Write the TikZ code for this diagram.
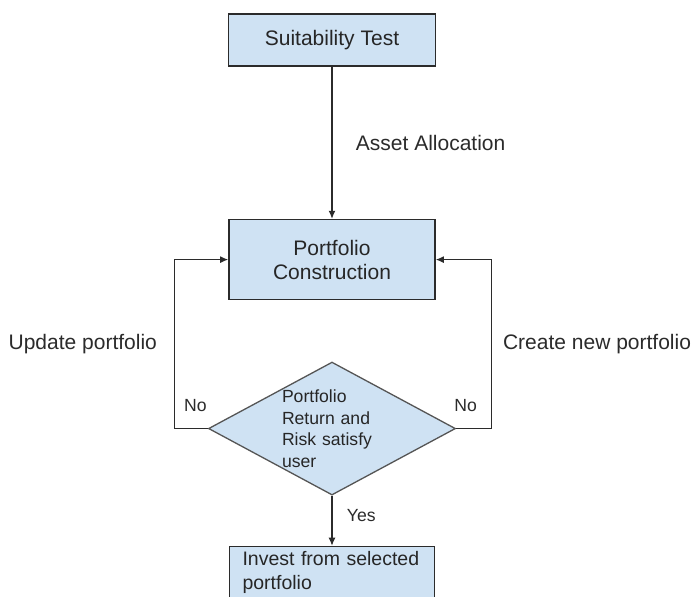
\documentclass[tikz,border=0pt]{standalone}
\usepackage{fontspec}
\setmainfont{Liberation Sans}
\usetikzlibrary{positioning,arrows.meta,shapes.geometric}
\definecolor{boxfill}{HTML}{CFE2F3}
\definecolor{edge}{HTML}{2B2B2B}
\definecolor{ink}{HTML}{262626}
\definecolor{rim}{HTML}{555555}

\begin{document}
\begin{tikzpicture}[x=1pt,y=1pt,font=\fontsize{21}{24}\selectfont,text=ink,
  stepbox/.style={draw=edge,line width=1.6pt,fill=boxfill,align=center},
  flow/.style={-{Latex[length=8pt,width=7pt]},edge,line width=1.2pt},
  small/.style={font=\fontsize{17.6}{21.5}\selectfont}]
\clip (0,0) rectangle (694,-597);
\fill[white] (0,0) rectangle (694,-597);
\node[stepbox,minimum width=207pt,minimum height=52pt] (st) at (332,-40) {Suitability Test};
\node[stepbox,minimum width=206pt,minimum height=80pt,below=152pt of st] (pc) {Portfolio\\Construction};
\node[diamond,draw=rim,line width=1.3pt,fill=boxfill,minimum width=247pt,minimum height=133pt,
  inner sep=0pt,below=61pt of pc] (dc) {};
\node[small,text width=92pt,align=left,xshift=-4pt] (dct) at (dc) {Portfolio\\Return and\\Risk satisfy\\user};
\node[stepbox,font=\fontsize{19.5}{24}\selectfont,text width=179pt,inner xsep=13pt,align=left,
  minimum height=52pt,below=50pt of dc] (inv) {Invest from selected\\portfolio};

\draw[flow] (st) -- node[right=20pt] {Asset Allocation} (pc);
\draw[flow] (dc.west) -- node[small,above=13pt,xshift=4pt] {No} ++(-33,0)
  |- node[pos=0.25,left=14pt] {Update portfolio} (pc.west);
\draw[flow] (dc.east) -- node[small,above=13pt,xshift=-8pt] {No} ++(35,0)
  |- node[pos=0.25,right=8pt] {Create new portfolio} (pc.east);
\draw[flow] (dc) -- node[small,right=11pt,yshift=5pt] {Yes} (inv);
\end{tikzpicture}
\end{document}
